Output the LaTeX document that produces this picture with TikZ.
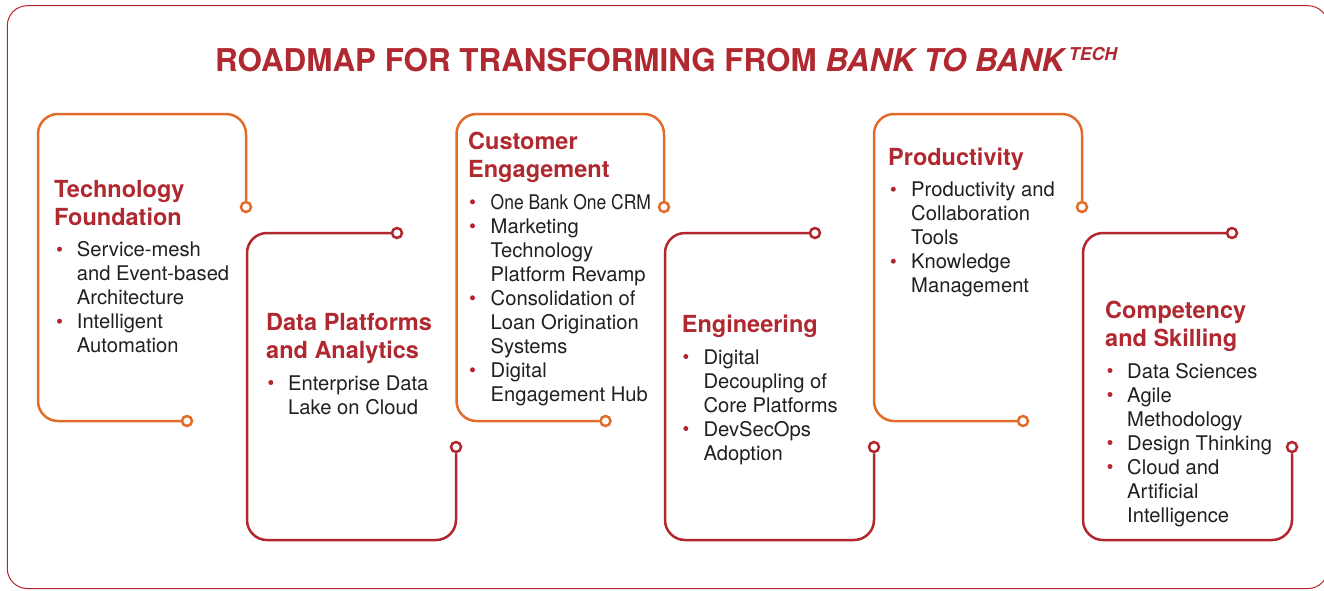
\documentclass[tikz,border=0pt]{standalone}
\usepackage{graphicx}
\usepackage{fontspec}
\setmainfont{TeX Gyre Heros}
\definecolor{rmorange}{RGB}{226,108,42}
\definecolor{rmred}{RGB}{178,39,46}
\definecolor{rmtitle}{RGB}{176,40,48}
\definecolor{rmtext}{RGB}{35,31,32}
\tikzset{
  orangeline/.style={draw=rmorange, line width=2.5pt, rounded corners=20pt},
  redline/.style={draw=rmred, line width=2.5pt, rounded corners=20pt},
  endo/.style={circle, draw=rmorange, line width=2.5pt, fill=white, minimum size=10pt, inner sep=0pt},
  endr/.style={circle, draw=rmred, line width=2.5pt, fill=white, minimum size=10pt, inner sep=0pt},
  headtxt/.style={anchor=base west, inner sep=0pt, text=rmtitle, font=\fontsize{23.5}{28}\selectfont\bfseries},
  bodytxt/.style={anchor=base west, inner sep=0pt, text=rmtext, font=\fontsize{20.2}{24}\selectfont},
  dotb/.style={circle, fill=rmred, inner sep=0pt, minimum size=5pt},
  frameline/.style={draw=rmred, line width=1pt, rounded corners=20pt},
  titletxt/.style={anchor=base west, inner sep=0pt, text=rmtitle, font=\fontsize{31.4}{36}\selectfont\bfseries}
}
\newcommand{\onebank}{\scalebox{0.865}[1]{One Bank One CRM}}
\newcommand{\headlines}[4]{%
  \foreach \txt [count=\i from 0] in {#4}{\node[headtxt] (h#1-\i) at (#2,#3+28*\i) {\txt};}}
\newcommand{\bodylines}[5]{%
  \foreach \txt/\bul [count=\i from 0] in {#5}{%
    \node[bodytxt] (b#1-\i) at (#2,#4+24*\i) {\txt};
    \ifnum\bul=1 \node[dotb] (d#1-\i) at (#3,#4-7.5+24*\i) {};\fi
  }}
\begin{document}
\begin{tikzpicture}[x=1pt,y=-1pt]
\useasboundingbox (0,0) rectangle (1324,590);
\clip (0,0) rectangle (1324,590);
\fill[white] (0,0) rectangle (1324,590);
% outer frame
\draw[frameline] (7.3,5.7) rectangle (1328,588.5);
% title
\node[titletxt] (title) at (215,71) {ROADMAP FOR TRANSFORMING FROM \textit{BANK TO BANK}\kern2pt\raisebox{11pt}{\fontsize{17.7}{20}\selectfont\itshape TECH}};
% end circles
\node[endo] (e1a) at (246,207) {};
\node[endo] (e1b) at (187,421) {};
\node[endr] (e2a) at (397,233) {};
\node[endr] (e2b) at (456,447) {};
\node[endo] (e3a) at (664,207) {};
\node[endo] (e3b) at (605.5,421) {};
\node[endr] (e4a) at (815,233) {};
\node[endr] (e4b) at (874,447) {};
\node[endo] (e5a) at (1082,207) {};
\node[endo] (e5b) at (1023,421) {};
\node[endr] (e6a) at (1232,233) {};
\node[endr] (e6b) at (1292,447) {};
% box outlines
\draw[orangeline] (e1b) -- (38,421) -- (38,114) -- (246,114) -- (e1a);
\draw[redline] (e2a) -- (247,233) -- (247,540) -- (456,540) -- (e2b);
\draw[orangeline] (e3b) -- (456.5,421) -- (456.5,114) -- (664,114) -- (e3a);
\draw[redline] (e4a) -- (665,233) -- (665,540) -- (874,540) -- (e4b);
\draw[orangeline] (e5b) -- (874,421) -- (874,114) -- (1082,114) -- (e5a);
\draw[redline] (e6a) -- (1083,233) -- (1083,540) -- (1292,540) -- (e6b);
% box 1
\headlines{1}{54}{197}{Technology,Foundation}
\bodylines{1}{76.7}{59.5}{256.7}{Service-mesh/1,and Event-based/0,Architecture/0,Intelligent/1,Automation/0}
% box 2
\headlines{2}{266}{330}{Data Platforms,and Analytics}
\bodylines{2}{288}{270.8}{390}{Enterprise Data/1,Lake on Cloud/0}
% box 3
\headlines{3}{468}{149.3}{Customer,Engagement}
\bodylines{3}{490.5}{472.5}{209.3}{\onebank/1,Marketing/1,Technology/0,Platform Revamp/0,Consolidation of/1,Loan Origination/0,Systems/0,Digital/1,Engagement Hub/0}
% box 4
\headlines{4}{681.7}{332.3}{Engineering}
\bodylines{4}{703.3}{685.8}{364}{Digital/1,Decoupling of/0,Core Platforms/0,DevSecOps/1,Adoption/0}
% box 5
\headlines{5}{888}{165}{Productivity}
\bodylines{5}{911}{893.3}{196.7}{Productivity and/1,Collaboration/0,Tools/0,Knowledge/1,Management/0}
% box 6
\headlines{6}{1105}{318}{Competency,and Skilling}
\bodylines{6}{1127}{1110}{378}{Data Sciences/1,Agile/1,Methodology/0,Design Thinking/1,Cloud and/1,Artificial/0,Intelligence/0}
\end{tikzpicture}
\end{document}
